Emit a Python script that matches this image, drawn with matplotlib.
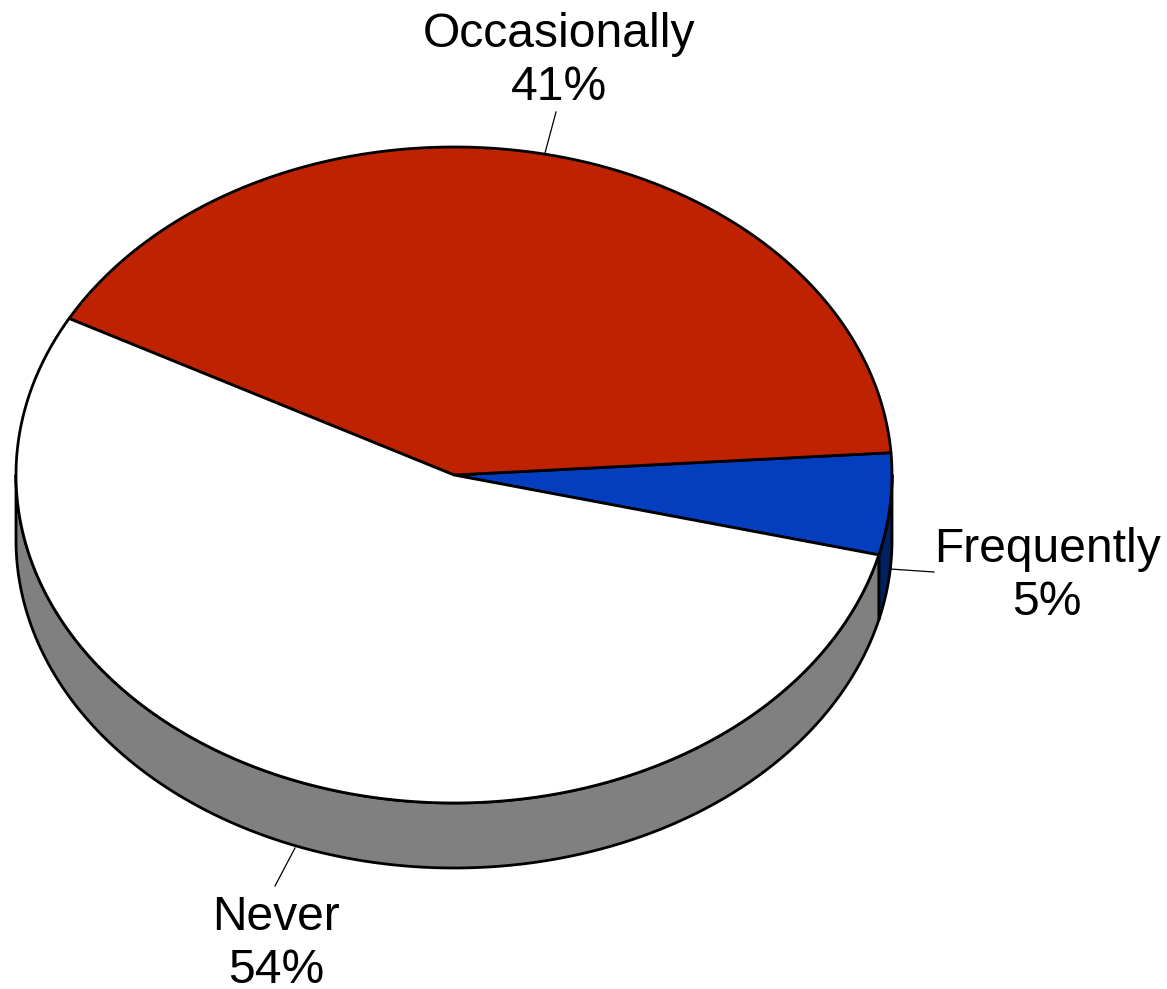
import numpy as np
import matplotlib
matplotlib.use('Agg')
import matplotlib.pyplot as plt
from matplotlib.patches import Polygon

plt.rcParams['font.family'] = ['Liberation Sans', 'DejaVu Sans']

categories = ['Frequently', 'Occasionally', 'Never']
percent = [5, 41, 54]
top_colors = ['#033EBE', '#BE2200', '#FFFFFF']
side_colors = ['#022060', '#5F1100', '#808080']

# pie geometry, in pixels
cx, cy = 454, 475
rx, ry = 438, 328
depth = 65
start = -14.1

fig = plt.figure(figsize=(11.67, 9.89), dpi=100)
ax = fig.add_axes([0, 0, 1, 1])
ax.set_xlim(0, 1167)
ax.set_ylim(989, 0)
ax.axis('off')


def rim(a0, a1, dy=0):
    t = np.radians(np.linspace(a0, a1, 200))
    return np.column_stack([cx + rx*np.cos(t), cy - ry*np.sin(t) + dy])


# slice limits in degrees, counter-clockwise from the start angle
edges = start + np.cumsum([0] + percent) * 3.6

# side wall first, only the front half of the rim shows
for i in range(len(percent)):
    a0, a1 = edges[i], edges[i+1]
    for lo, hi in [(a0, a1), (a0 + 360, a1 + 360), (a0 - 360, a1 - 360)]:
        lo2, hi2 = max(lo, 180), min(hi, 360)
        if lo2 < hi2:
            top = rim(lo2, hi2)
            bottom = rim(hi2, lo2, depth)
            ax.add_patch(Polygon(np.vstack([top, bottom]), closed=True,
                                 facecolor=side_colors[i], edgecolor='black',
                                 linewidth=2.0, joinstyle='round'))

# top face
for i in range(len(percent)):
    pts = np.vstack([[cx, cy], rim(edges[i], edges[i+1])])
    ax.add_patch(Polygon(pts, closed=True, facecolor=top_colors[i],
                         edgecolor='black', linewidth=2.0, joinstyle='round'))

# leader lines
leaders = [((890, 569), (934, 572)), ((545, 153), (556, 112)), ((295, 848), (275, 886))]
for p, q in leaders:
    ax.plot([p[0], q[0]], [p[1], q[1]], color='black', linewidth=0.9)

# labels
label_pos = [(1047, 576), (559, 61), (276, 944)]
for i in range(len(percent)):
    ax.text(label_pos[i][0], label_pos[i][1], '%s\n%d%%' % (categories[i], percent[i]),
            ha='center', va='center', fontsize=34.6, color='black', linespacing=1.21)

fig.savefig('out.png', dpi=100)
